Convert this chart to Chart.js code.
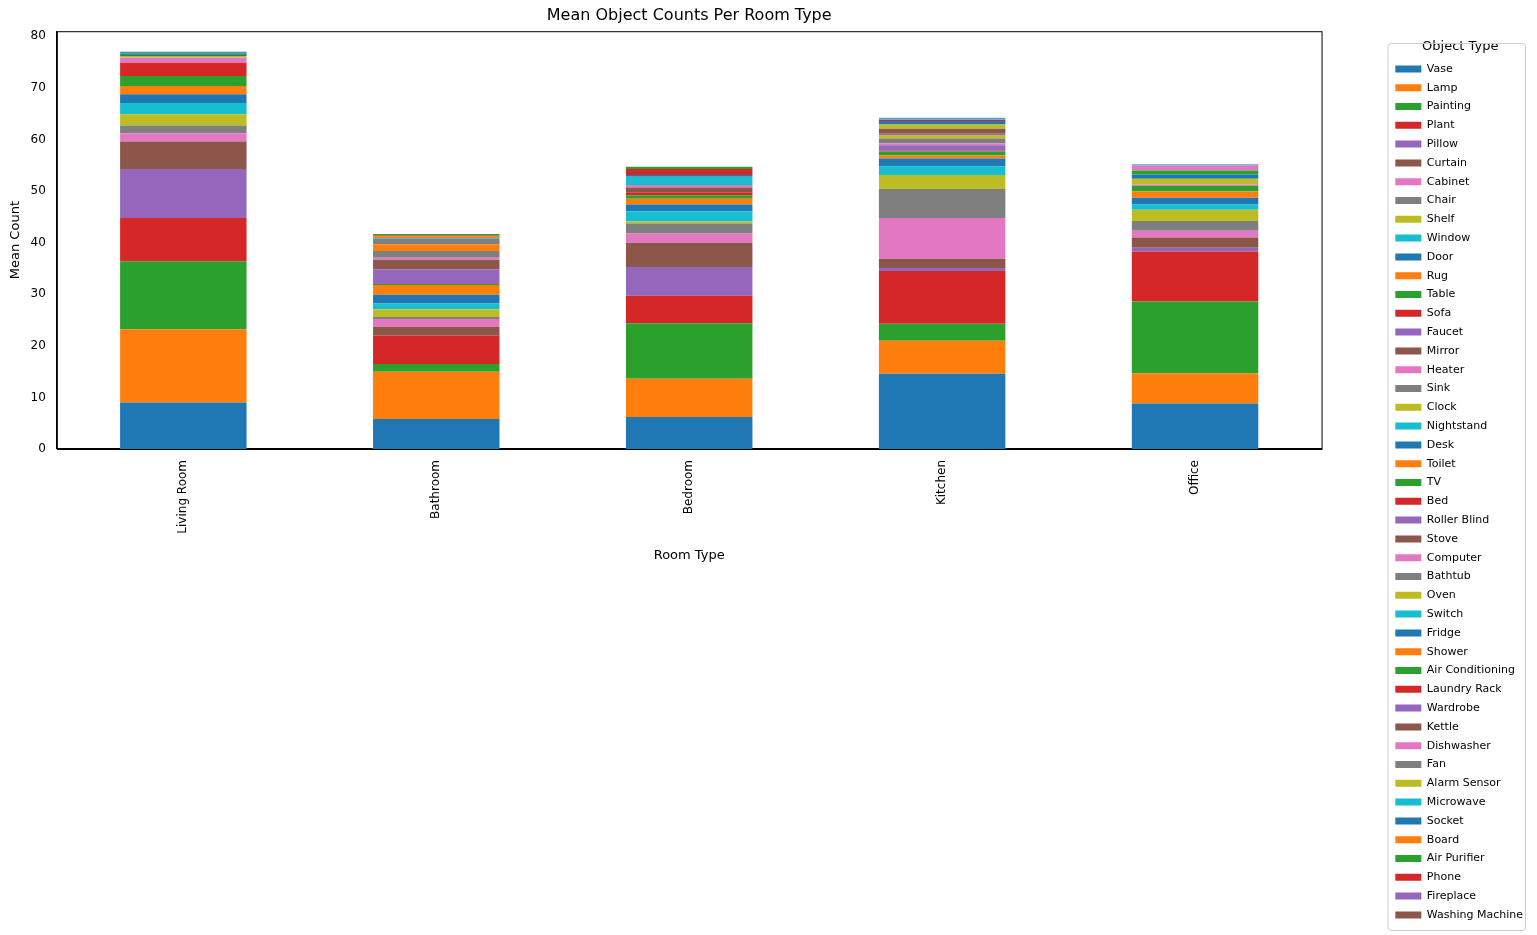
<!DOCTYPE html>
<html>
<head>
<meta charset="utf-8">
<script src="https://cdn.jsdelivr.net/npm/chart.js@4"></script>
<style>
  body { margin: 0; background: #fff; }
  #wrap { width: 1537px; height: 935px; }
</style>
</head>
<body>
<div id="wrap"><canvas id="grafico"></canvas></div>
<script>
const roomTypes = ["Living Room", "Bathroom", "Bedroom", "Kitchen", "Office"];

const objectTypes = ["Vase", "Lamp", "Painting", "Plant", "Pillow", "Curtain", "Cabinet", "Chair", "Shelf", "Window",
  "Door", "Rug", "Table", "Sofa", "Faucet", "Mirror", "Heater", "Sink", "Clock", "Nightstand",
  "Desk", "Toilet", "TV", "Bed", "Roller Blind", "Stove", "Computer", "Bathtub", "Oven", "Switch",
  "Fridge", "Shower", "Air Conditioning", "Laundry Rack", "Wardrobe", "Kettle", "Dishwasher", "Fan", "Alarm Sensor", "Microwave",
  "Socket", "Board", "Air Purifier", "Phone", "Fireplace", "Washing Machine"];

// valores medios por tipo de objeto (mismo orden que objectTypes)
const livingRoom = [9.0, 14.2, 13.2, 8.4, 9.5, 5.3, 1.6, 1.5, 2.2, 2.2,
  1.7, 1.6, 1.9, 2.6, 0, 0, 1.0, 0, 0.3, 0,
  0.2, 0, 0.3, 0, 0, 0, 0, 0, 0, 0,
  0.2, 0, 0, 0, 0, 0, 0, 0, 0, 0,
  0.1, 0, 0, 0, 0, 0];
const bathroom = [5.8, 9.2, 1.5, 5.5, 0, 1.7, 1.5, 0.4, 1.5, 1.1,
  1.7, 1.9, 0.2, 0, 2.8, 1.9, 0.4, 1.3, 0, 0,
  0, 1.3, 0, 0, 0, 0, 0, 1.0, 0, 0.1,
  0.1, 0.3, 0, 0.2, 0, 0, 0, 0, 0, 0,
  0, 0, 0.3, 0, 0, 0];
const bedroom = [6.2, 7.4, 10.8, 5.3, 5.6, 4.7, 1.8, 1.9, 0.4, 2.0,
  1.3, 1.1, 0.7, 0.6, 0, 0.9, 0.5, 0, 0, 1.6,
  0.3, 0, 0, 1.2, 0, 0, 0, 0, 0, 0,
  0, 0, 0.4, 0, 0, 0, 0, 0, 0, 0,
  0, 0, 0, 0, 0, 0];
const kitchen = [14.6, 6.4, 3.3, 10.2, 0.6, 1.8, 7.9, 5.6, 2.7, 1.7,
  1.5, 0.6, 0.8, 0.1, 1.1, 0, 0.4, 0.9, 0.7, 0,
  0, 0, 0, 0, 0.2, 1.0, 0, 0, 0.8, 0,
  0.7, 0, 0, 0.2, 0, 0, 0.2, 0, 0, 0.2,
  0, 0, 0, 0, 0, 0];
const office = [8.8, 5.9, 13.9, 9.7, 0.7, 2.0, 1.3, 1.9, 2.2, 1.0,
  1.3, 1.2, 1.1, 0, 0, 0, 0.3, 0, 1.1, 0,
  0.8, 0, 0.8, 0, 0, 0, 1.0, 0, 0, 0.2,
  0, 0, 0, 0, 0, 0, 0, 0, 0, 0,
  0, 0, 0, 0, 0, 0];

const yTicks = [0, 10, 20, 30, 40, 50, 60, 70, 80];

const palette = ["#1f77b4", "#ff7f0e", "#2ca02c", "#d62728", "#9467bd",
  "#8c564b", "#e377c2", "#7f7f7f", "#bcbd22", "#17becf"];

const rooms = [livingRoom, bathroom, bedroom, kitchen, office];

const datasets = objectTypes.map((name, i) => ({
  label: name,
  data: rooms.map(r => r[i]),
  backgroundColor: palette[i % 10],
  borderWidth: 0
}));

const legendTop = 34;

// marco del área de trazado, borde de la leyenda y título del eje x
const marcos = {
  id: "marcos",
  afterDraw(chart) {
    const ctx = chart.ctx;
    const a = chart.chartArea;
    ctx.save();
    ctx.strokeStyle = "#000";
    ctx.lineWidth = 1;
    ctx.strokeRect(a.left + 0.5, a.top + 0.5, a.right - a.left, a.bottom - a.top);
    const l = chart.legend;
    ctx.strokeStyle = "#ccc";
    ctx.beginPath();
    ctx.roundRect(l.left + 0.5, l.top + legendTop + 3.5, l.width - 8, l.height - legendTop - 8, 3);
    ctx.stroke();
    ctx.fillStyle = "#000";
    ctx.font = "13px 'DejaVu Sans'";
    ctx.textAlign = "center";
    ctx.textBaseline = "middle";
    ctx.fillText("Room Type", (a.left + a.right) / 2, 556);
    ctx.restore();
  }
};

new Chart(document.getElementById("grafico"), {
  type: "bar",
  data: { labels: roomTypes, datasets },
  plugins: [marcos],
  options: {
    responsive: true,
    maintainAspectRatio: false,
    animation: false,
    layout: { padding: { left: 4, right: 4, top: 6, bottom: 0 } },
    datasets: { bar: { categoryPercentage: 1, barPercentage: 0.5 } },
    plugins: {
      title: {
        display: true,
        fullSize: false,
        text: "Mean Object Counts Per Room Type",
        color: "#000",
        font: { family: "DejaVu Sans", size: 16, weight: "normal" },
        padding: { top: 0, bottom: 6 }
      },
      legend: {
        position: "right",
        align: "start",
        title: {
          display: true,
          text: "Object Type",
          color: "#000",
          font: { family: "DejaVu Sans", size: 13 },
          padding: { top: legendTop, bottom: 0 }
        },
        labels: {
          color: "#000",
          font: { family: "DejaVu Sans", size: 11 },
          boxWidth: 26,
          boxHeight: 7,
          padding: 7.8
        }
      },
      tooltip: { enabled: false }
    },
    scales: {
      x: {
        stacked: true,
        grid: { display: false },
        border: { color: "#000" },
        afterFit(axis) { axis.height = 486; },
        ticks: {
          color: "#000",
          font: { family: "DejaVu Sans", size: 12 },
          maxRotation: 90,
          minRotation: 90
        }
      },
      y: {
        stacked: true,
        min: 0,
        max: 81,
        grid: { display: false },
        border: { color: "#000" },
        afterBuildTicks(axis) { axis.ticks = yTicks.map(v => ({ value: v })); },
        ticks: {
          color: "#000",
          font: { family: "DejaVu Sans", size: 12 }
        },
        title: {
          display: true,
          text: "Mean Count",
          color: "#000",
          font: { family: "DejaVu Sans", size: 13 }
        }
      },
      hueco: {
        type: "linear",
        position: "right",
        display: true,
        grid: { display: false },
        border: { display: false },
        ticks: { display: false },
        afterFit(axis) { axis.width = 66; }
      }
    }
  }
});
</script>
</body>
</html>
